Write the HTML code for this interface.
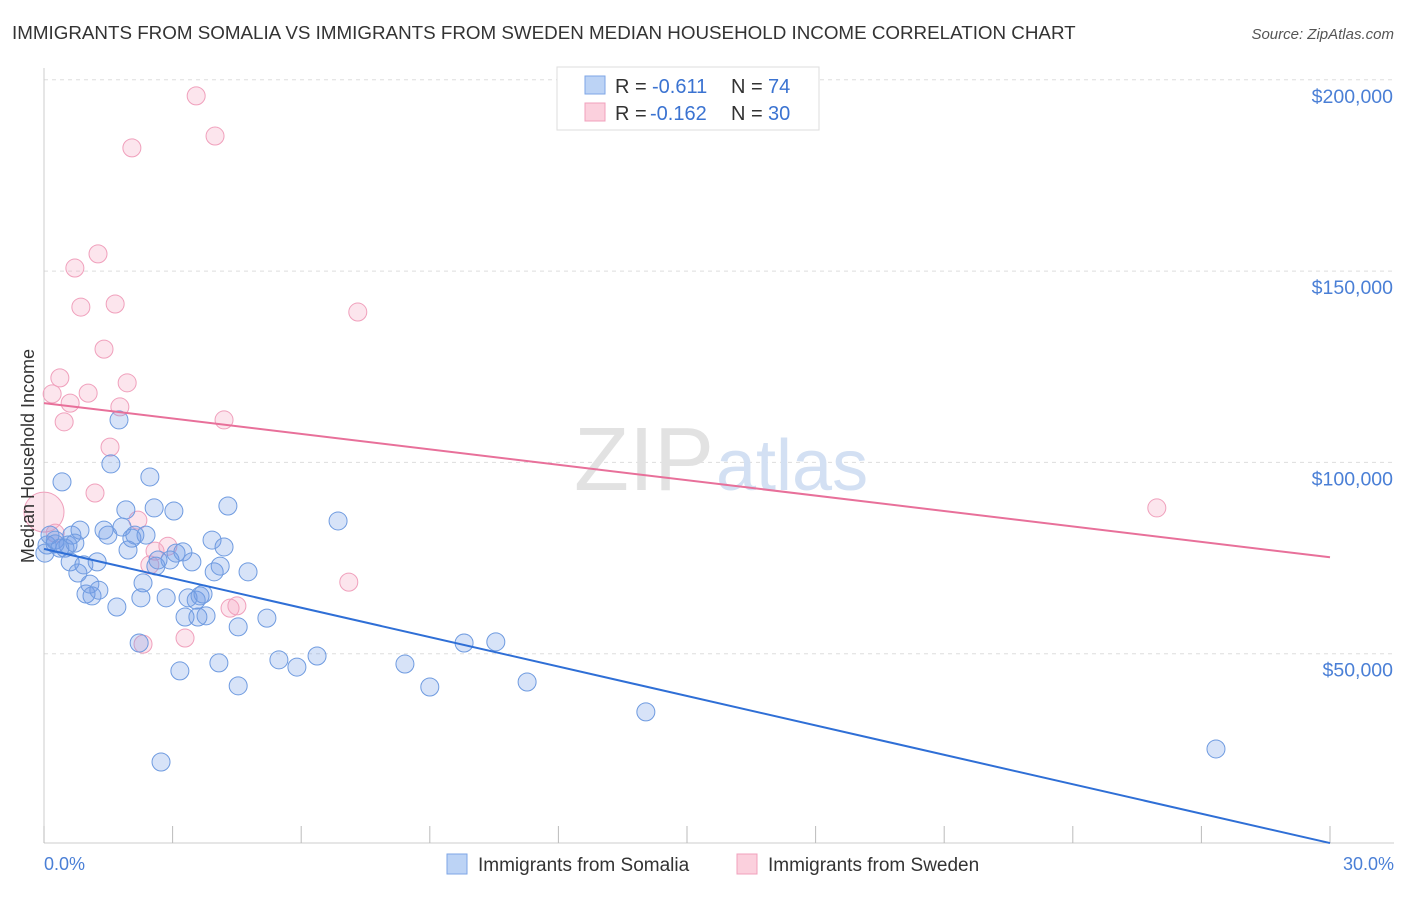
<!DOCTYPE html>
<html><head><meta charset="utf-8"><style>
body{margin:0;background:#fff;font-family:"Liberation Sans",sans-serif;}
svg text{font-family:"Liberation Sans",sans-serif;}
</style></head><body>
<svg id="c" width="1406" height="892" viewBox="0 0 1406 892">
<text x="12" y="39" font-size="18.8" fill="#333">IMMIGRANTS FROM SOMALIA VS IMMIGRANTS FROM SWEDEN MEDIAN HOUSEHOLD INCOME CORRELATION CHART</text>
<text x="1394" y="39" font-size="15" fill="#555" text-anchor="end" font-style="italic">Source: ZipAtlas.com</text>
<g id="grid"></g>
<text x="714" y="490" font-size="90" fill="#e2e2e2" text-anchor="end" font-family="Liberation Serif">ZIP</text>
<text x="716" y="490" font-size="72" fill="#d3e0f3">atlas</text>
<g id="marks"></g>
<text x="34" y="456" font-size="18" fill="#333" text-anchor="middle" transform="rotate(-90 34 456)">Median Household Income</text>
<text x="44" y="870" font-size="18" fill="#4a7fd6">0.0%</text>
<text x="1394" y="870" font-size="18" fill="#4a7fd6" text-anchor="end">30.0%</text>
<g>
<rect x="557" y="67" width="262" height="63" fill="#fff" stroke="#ddd"/>
<rect x="585" y="76" width="20" height="18" fill="#bcd3f5" stroke="#7ea6e6"/>
<rect x="585" y="103" width="20" height="18" fill="#fbd0dd" stroke="#f0a0bc"/>
<text x="615" y="93" font-size="20" fill="#333">R =</text>
<text x="652" y="93" font-size="20" fill="#3b73d1">-0.611</text>
<text x="731" y="93" font-size="20" fill="#333">N =</text>
<text x="768" y="93" font-size="20" fill="#3b73d1">74</text>
<text x="615" y="120" font-size="20" fill="#333">R =</text>
<text x="650" y="120" font-size="20" fill="#3b73d1">-0.162</text>
<text x="731" y="120" font-size="20" fill="#333">N =</text>
<text x="768" y="120" font-size="20" fill="#3b73d1">30</text>
</g>
<g>
<rect x="447" y="854" width="20" height="20" fill="#bcd3f5" stroke="#7ea6e6"/>
<text x="478" y="871" font-size="19" fill="#333">Immigrants from Somalia</text>
<rect x="737" y="854" width="20" height="20" fill="#fbd0dd" stroke="#f0a0bc"/>
<text x="768" y="871" font-size="19" fill="#333">Immigrants from Sweden</text>
</g>
</svg>
<script>
const yTicks=[50000,100000,150000,200000];
const yTickLabels=["$50,000","$100,000","$150,000","$200,000"];
const xTicks=[0,3,6,9,12,15,18,21,24,27,30];
const somaliaX=[0.07,0.14,0.26,0.42,0.49,0.56,0.61,0.65,0.72,0.79,0.84,0.93,0.98,1.07,1.12,1.24,1.28,1.40,1.49,1.56,1.70,1.75,1.82,1.91,1.96,2.05,2.12,2.22,2.31,2.26,2.38,2.47,2.57,2.61,2.66,2.73,2.85,2.94,3.03,3.08,3.17,3.24,3.29,3.36,3.45,3.55,3.59,3.64,3.71,3.78,3.92,3.97,4.08,4.11,4.20,4.29,4.53,4.53,4.76,5.20,5.48,5.90,6.37,6.86,8.42,9.00,9.80,10.54,11.27,14.04,27.34,0.26,0.37,0.02];
const somaliaY=[78.4,81.0,79.7,94.9,77.6,78.4,74.0,81.0,78.9,71.1,82.3,73.2,65.6,68.2,65.1,74.0,66.6,82.3,81.0,99.6,62.2,111.1,83.1,87.6,77.1,80.2,81.0,52.8,68.5,64.6,81.0,96.2,88.1,72.9,74.5,21.7,64.6,74.5,87.3,76.3,45.5,76.6,59.6,64.6,74.0,64.0,59.6,65.1,65.6,59.9,79.7,71.4,47.6,72.9,77.9,88.6,57.0,41.6,71.4,59.3,48.4,46.5,49.4,84.7,47.3,41.3,52.8,53.1,42.6,34.8,25.1,78.7,77.6,76.3];
const swedenX=[0,0.19,0.26,0.37,0.47,0.61,0.72,0.86,1.03,1.19,1.26,1.40,1.54,1.66,1.77,1.94,2.05,2.19,2.31,2.47,2.59,2.89,3.29,3.55,3.99,4.20,4.34,4.50,7.11,7.32,25.96];
const swedenY=[87.0,117.9,81.5,122.1,110.6,115.5,150.8,140.6,118.1,92.0,154.5,129.6,104.0,141.4,114.5,120.8,182.2,84.9,52.5,73.2,76.8,78.1,54.1,195.8,185.3,111.1,61.9,62.5,68.7,139.3,88.1];
const somaliaTrend=[77.4,0.5];
const swedenTrend=[115.5,75.2];
const NS="http://www.w3.org/2000/svg";
const X=v=>44+v*(1286/30);
const Y=v=>845-v*0.003826;
function mk(t,a,p){const e=document.createElementNS(NS,t);for(const k in a)e.setAttribute(k,a[k]);p.appendChild(e);return e;}
const g=document.getElementById('grid');
yTicks.forEach((t,i)=>{
 const l=mk('line',{x1:44,x2:1394,y1:Y(t),y2:Y(t),stroke:'#ddd','stroke-dasharray':'4,4'},g);
 
 
 const tx=mk('text',{x:1393,y:Y(t)+23,'font-size':19.5,fill:'#4a7fd6','text-anchor':'end'},g);
 tx.textContent=yTickLabels[i];
 
 
});
const ax=mk('line',{x1:44,x2:1394,y1:843,y2:843,stroke:'#ccc'},g);


const ay=mk('line',{x1:44,x2:44,y1:68,y2:843,stroke:'#ccc'},g);


xTicks.forEach(t=>{
 const l=mk('line',{x1:X(t),x2:X(t),y1:826,y2:843,stroke:'#bbb'},g);
 
 
});
const m=document.getElementById('marks');
swedenX.forEach((x,i)=>{
 const c=mk('circle',{cx:X(x),cy:Y(swedenY[i]*1000),r:i===0?20:9,fill:'rgba(244,160,190,0.28)',stroke:'#f0a0bc','stroke-width':1},m);
 
 
});
somaliaX.forEach((x,i)=>{
 const c=mk('circle',{cx:X(x),cy:Y(somaliaY[i]*1000),r:9,fill:'rgba(110,155,230,0.28)',stroke:'#6f9be0','stroke-width':1},m);
 
 
});
const t1=mk('line',{x1:X(0),y1:Y(swedenTrend[0]*1000),x2:X(30),y2:Y(swedenTrend[1]*1000),stroke:'#e8709a','stroke-width':2},m);


const t2=mk('line',{x1:X(0),y1:Y(somaliaTrend[0]*1000),x2:X(30),y2:Y(somaliaTrend[1]*1000),stroke:'#2f6fd6','stroke-width':2},m);


</script>
</body></html>
